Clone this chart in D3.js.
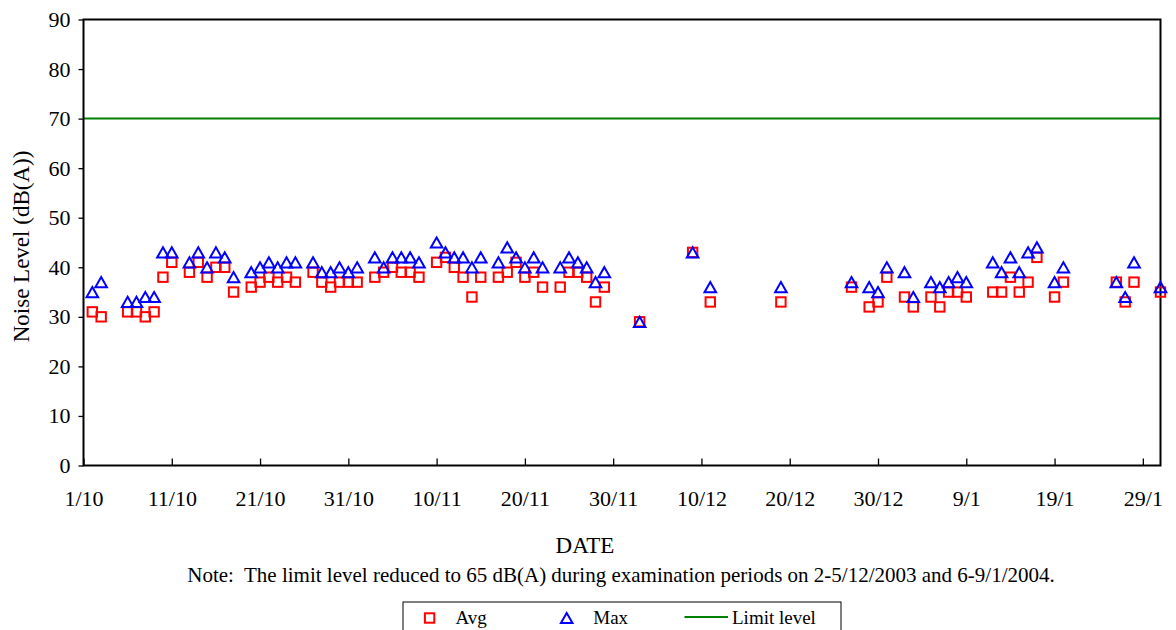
<!DOCTYPE html>
<html><head><meta charset="utf-8">
<script src="https://cdn.jsdelivr.net/npm/d3@7"></script>
<style>body{margin:0;background:#fff}svg{display:block}</style>
</head><body>
<svg id="c" width="1176" height="630"></svg>
<script>
const dates = ["2003-10-02","2003-10-03","2003-10-06","2003-10-07","2003-10-08","2003-10-09","2003-10-10","2003-10-11",
"2003-10-13","2003-10-14","2003-10-15","2003-10-16","2003-10-17","2003-10-18","2003-10-20","2003-10-21","2003-10-22",
"2003-10-23","2003-10-24","2003-10-25","2003-10-27","2003-10-28","2003-10-29","2003-10-30","2003-10-31","2003-11-01",
"2003-11-03","2003-11-04","2003-11-05","2003-11-06","2003-11-07","2003-11-08","2003-11-10","2003-11-11","2003-11-12",
"2003-11-13","2003-11-14","2003-11-15","2003-11-17","2003-11-18","2003-11-19","2003-11-20","2003-11-21","2003-11-22",
"2003-11-24","2003-11-25","2003-11-26","2003-11-27","2003-11-28","2003-11-29","2003-12-03","2003-12-09","2003-12-11",
"2003-12-19","2003-12-27","2003-12-29","2003-12-30","2003-12-31","2004-01-02","2004-01-03","2004-01-05","2004-01-06",
"2004-01-07","2004-01-08","2004-01-09","2004-01-12","2004-01-13","2004-01-14","2004-01-15","2004-01-16","2004-01-17",
"2004-01-19","2004-01-20","2004-01-26","2004-01-27","2004-01-28","2004-01-31"];
const avgValues = [31,30,31,31,30,31,38,41,
39,41,38,40,40,35,36,37,38,
37,38,37,39,37,36,37,37,37,
38,39,40,39,39,38,41,42,40,
38,34,38,38,39,41,38,39,36,
36,39,39,38,33,36,29,43,33,
33,36,32,33,38,34,32,34,32,
35,35,34,35,35,38,35,37,42,
34,37,37,33,37,35];
const maxValues = [35,37,33,33,34,34,43,43,
41,43,40,43,42,38,39,40,41,
40,41,41,41,39,39,40,39,40,
42,40,42,42,42,41,45,43,42,
42,40,42,41,44,42,40,42,40,
40,42,41,40,37,39,29,43,36,
36,37,36,35,40,39,34,37,36,
37,38,37,41,39,42,39,43,44,
37,40,37,34,41,36];
const limitLevel = 70;
const xDomain = ["2003-10-01","2004-01-31"];
const xTickDates = ["2003-10-01","2003-10-11","2003-10-21","2003-10-31","2003-11-10","2003-11-20","2003-11-30",
"2003-12-10","2003-12-20","2003-12-30","2004-01-09","2004-01-19","2004-01-29"];
const yTicks = [0,10,20,30,40,50,60,70,80,90];
const yTitle = "Noise Level (dB(A))";
const xTitle = "DATE";
const note = "Note:\u00a0 The limit level reduced to 65 dB(A) during examination periods on 2-5/12/2003 and 6-9/1/2004.";
const legendLabels = ["Avg","Max","Limit level"];

const parse = d3.utcParse("%Y-%m-%d");
const fmt = d3.utcFormat("%-d/%-m");
const FONT = "'Liberation Serif','Times New Roman',serif";
const L = 83.5, R = 1160.5, T = 19.5, B = 465.5;

const svg = d3.select("#c");
const x = d3.scaleUtc().domain(xDomain.map(parse)).range([L, R]);
const y = d3.scaleLinear().domain([0, 90]).range([B, T]);

const data = dates.map((d, i) => ({date: parse(d), avg: avgValues[i], max: maxValues[i]}));

// limit line
svg.append("line").attr("x1", L).attr("x2", R).attr("y1", y(limitLevel)).attr("y2", y(limitLevel))
  .attr("stroke", "#008000").attr("stroke-width", 2);

// Y axis
const yAxis = svg.append("g").attr("transform", `translate(${L},0)`)
  .call(d3.axisLeft(y).tickValues(yTicks).tickSize(5).tickPadding(8).tickFormat(d3.format("d")));
yAxis.select(".domain").remove();
yAxis.selectAll("line").attr("stroke", "#000").attr("stroke-width", 1.3);
yAxis.selectAll("text").attr("font-family", FONT).attr("font-size", 22).attr("fill", "#000");

// X axis
const xAxis = svg.append("g").attr("transform", `translate(0,${B})`)
  .call(d3.axisBottom(x).tickValues(xTickDates.map(parse)).tickSize(-7).tickPadding(0).tickFormat(fmt));
xAxis.select(".domain").remove();
xAxis.selectAll("line").attr("stroke", "#000").attr("stroke-width", 1.3);
xAxis.selectAll("text").attr("font-family", FONT).attr("font-size", 22).attr("fill", "#000")
  .attr("dy", null).attr("y", 40);

// frame
svg.append("rect").attr("x", L).attr("y", T).attr("width", R - L).attr("height", B - T)
  .attr("fill", "none").attr("stroke", "#000").attr("stroke-width", 2);

// markers
const S = 9.4;
const triPath = "M0,-5.6 L5.8,4.6 L-5.8,4.6 Z";
svg.append("g").selectAll("rect").data(data).join("rect")
  .attr("x", d => x(d.date) - S / 2).attr("y", d => y(d.avg) - S / 2)
  .attr("width", S).attr("height", S)
  .attr("fill", "none").attr("stroke", "#ff0000").attr("stroke-width", 2);
svg.append("g").selectAll("path").data(data).join("path")
  .attr("d", triPath)
  .attr("transform", d => `translate(${x(d.date)},${y(d.max) + 0.5})`)
  .attr("fill", "none").attr("stroke", "#0000ff").attr("stroke-width", 2);

// titles
svg.append("text").attr("transform", `translate(29,${(T + B) / 2 + 4}) rotate(-90)`)
  .attr("text-anchor", "middle").attr("font-family", FONT).attr("font-size", 23).text(yTitle);
svg.append("text").attr("x", 585).attr("y", 553).attr("text-anchor", "middle")
  .attr("font-family", FONT).attr("font-size", 23).text(xTitle);
svg.append("text").attr("x", 621).attr("y", 582).attr("text-anchor", "middle")
  .attr("font-family", FONT).attr("font-size", 21).text(note);

// legend
const lg = svg.append("g");
lg.append("rect").attr("x", 403).attr("y", 602).attr("width", 438).attr("height", 40)
  .attr("fill", "#fff").attr("stroke", "#000").attr("stroke-width", 1);
lg.append("rect").attr("x", 429.6 - S / 2).attr("y", 618 - S / 2).attr("width", S).attr("height", S)
  .attr("fill", "none").attr("stroke", "#ff0000").attr("stroke-width", 2);
lg.append("path").attr("d", triPath).attr("transform", "translate(566.7,618.5)")
  .attr("fill", "none").attr("stroke", "#0000ff").attr("stroke-width", 2);
lg.append("line").attr("x1", 684.5).attr("x2", 728).attr("y1", 617).attr("y2", 617)
  .attr("stroke", "#008000").attr("stroke-width", 2);
const lx = [455.5, 593.3, 732];
lg.selectAll("text.l").data(legendLabels).join("text").attr("class", "l")
  .attr("x", (d, i) => lx[i]).attr("y", 624).attr("font-family", FONT).attr("font-size", 19).text(d => d);
</script>
</body></html>
